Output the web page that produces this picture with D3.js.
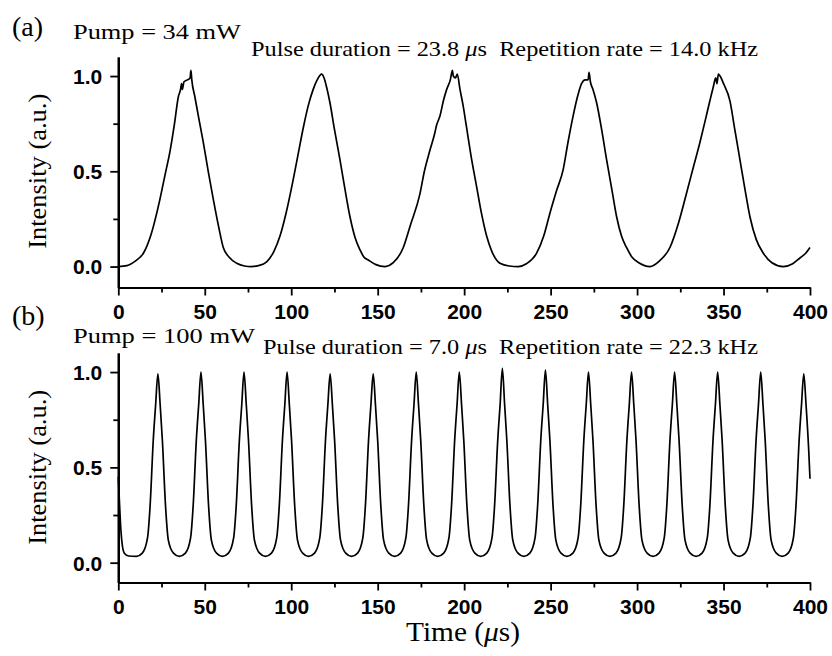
<!DOCTYPE html>
<html>
<head>
<meta charset="utf-8">
<script src="https://cdn.jsdelivr.net/npm/d3@7"></script>
<style>
  html, body { margin: 0; padding: 0; background: #fff; }
  svg { display: block; }
</style>
</head>
<body>
<svg id="chart" width="832" height="656"></svg>
<script>
// ---------------- DATA ----------------
const xTicks = [0, 50, 100, 150, 200, 250, 300, 350, 400];
const xMinorTicks = [25, 75, 125, 175, 225, 275, 325, 375];
const yTicks = [0.0, 0.5, 1.0];
const yMinorTicks = [0.25, 0.75];

const panelLabels = ["(a)", "(b)"];
const pumpLabels = ["Pump = 34 mW", "Pump = 100 mW"];
const durationLabels = ["Pulse duration = 23.8 ", "Pulse duration = 7.0 "];
const rateLabels = ["s  Repetition rate = 14.0 kHz", "s  Repetition rate = 22.3 kHz"];
const yTitle = "Intensity (a.u.)";
const xTitle = "Time (";

// Panel (a): Pump = 34 mW
const timeA = [0, 5, 10, 14.5, 19, 24, 27, 30, 32.5, 34.7, 36, 36.6, 37, 38, 40, 41.5, 42, 42.5, 44.3, 46.5,
  49, 52, 55, 58, 60.7, 64, 68.5, 73, 77, 81, 85.8, 90, 93.5, 97, 101, 104, 107, 110, 112.7, 115,
  117.6, 119, 120.5, 122.4, 125, 128.2, 131, 134, 137, 139.8, 142, 144.6, 149, 154.2, 159, 164.8, 169, 174.4, 177, 180.2,
  183, 184, 186, 188, 189.9, 192, 193.2, 193.7, 195, 196, 197.6, 199.5, 201.4, 204, 207.2, 210, 213, 216, 220.7, 226,
  231.3, 236, 241.9, 246, 249.6, 253.5, 257.3, 260, 263, 265.5, 267.9, 270, 271.7, 272.2, 273, 274.5, 276.6, 279.5, 282.4, 285.5,
  288.2, 291, 293.9, 297, 301, 307.4, 313, 319, 324, 328.6, 332.5, 336.3, 339.5, 342.1, 344, 345.5, 346.2, 347, 348, 350,
  353.7, 356.5, 359.5, 362.5, 365.3, 369, 373, 378, 384.5, 390, 394.2, 397.5, 400];
const intensityA = [0.0, 0.005, 0.03, 0.07, 0.17, 0.35, 0.48, 0.61, 0.75, 0.89, 0.93, 0.96, 0.93, 0.97, 0.98, 0.99, 1.03, 0.98, 0.89, 0.78,
  0.66, 0.50, 0.35, 0.21, 0.10, 0.05, 0.017, 0.003, 0.0, 0.005, 0.025, 0.08, 0.16, 0.28, 0.45, 0.59, 0.73, 0.85, 0.93, 0.98,
  1.01, 0.99, 0.94, 0.86, 0.72, 0.56, 0.41, 0.26, 0.15, 0.087, 0.05, 0.034, 0.01, 0.0, 0.02, 0.10, 0.22, 0.38, 0.50, 0.61,
  0.70, 0.74, 0.79, 0.87, 0.93, 0.98, 1.03, 1.0, 0.99, 1.01, 0.93, 0.84, 0.73, 0.58, 0.42, 0.28, 0.16, 0.08, 0.017, 0.003,
  0.0, 0.015, 0.07, 0.16, 0.28, 0.40, 0.51, 0.65, 0.79, 0.89, 0.96, 0.98, 0.98, 1.02, 0.97, 0.93, 0.86, 0.72, 0.56, 0.40,
  0.26, 0.16, 0.10, 0.05, 0.02, 0.0, 0.03, 0.10, 0.23, 0.385, 0.52, 0.65, 0.77, 0.87, 0.94, 0.99, 0.96, 1.01, 1.0, 0.96,
  0.87, 0.72, 0.56, 0.40, 0.26, 0.14, 0.07, 0.02, 0.0, 0.015, 0.045, 0.07, 0.10];

// Panel (b): Pump = 100 mW
const timeB = [0, 0.6, 1.3, 2.2, 3.5, 6, 10.5,
  13.9, 16.9, 18.4, 20.2, 21.6, 22.9, 24.2, 25.5, 27.3, 28.9, 31.9, 35.3,
  38.8, 41.8, 43.3, 45.1, 46.5, 47.8, 49.1, 50.4, 52.2, 53.8, 56.8, 60.2,
  63.7, 66.7, 68.2, 70.0, 71.4, 72.7, 74.0, 75.3, 77.1, 78.7, 81.7, 85.1,
  88.6, 91.6, 93.1, 94.9, 96.3, 97.6, 98.9, 100.2, 102.0, 103.6, 106.6, 110.0,
  113.5, 116.5, 118.0, 119.8, 121.2, 122.5, 123.8, 125.1, 126.9, 128.5, 131.5, 134.9,
  138.4, 141.4, 142.9, 144.7, 146.1, 147.4, 148.7, 150.0, 151.8, 153.4, 156.4, 159.8,
  163.3, 166.3, 167.8, 169.6, 171.0, 172.3, 173.6, 174.9, 176.7, 178.3, 181.3, 184.7,
  188.2, 191.2, 192.7, 194.5, 195.9, 197.2, 198.5, 199.8, 201.6, 203.2, 206.2, 209.6,
  213.1, 216.1, 217.6, 219.4, 220.8, 222.1, 223.4, 224.7, 226.5, 228.1, 231.1, 234.5,
  238.0, 241.0, 242.5, 244.3, 245.7, 247.0, 248.3, 249.6, 251.4, 253.0, 256.0, 259.4,
  262.9, 265.9, 267.4, 269.2, 270.6, 271.9, 273.2, 274.5, 276.3, 277.9, 280.9, 284.3,
  287.8, 290.8, 292.3, 294.1, 295.5, 296.8, 298.1, 299.4, 301.2, 302.8, 305.8, 309.2,
  312.7, 315.7, 317.2, 319.0, 320.4, 321.7, 323.0, 324.3, 326.1, 327.7, 330.7, 334.1,
  337.6, 340.6, 342.1, 343.9, 345.3, 346.6, 347.9, 349.2, 351.0, 352.6, 355.6, 359.0,
  362.5, 365.5, 367.0, 368.8, 370.2, 371.5, 372.8, 374.1, 375.9, 377.5, 380.5, 383.9,
  387.4, 390.4, 391.9, 393.7, 395.1, 396.4, 397.7, 399.2, 400];
const intensityB = [0.45, 0.33, 0.2, 0.1, 0.05, 0.035, 0.033,
  0.05, 0.13, 0.30, 0.64, 0.83, 0.99, 0.83, 0.64, 0.30, 0.12, 0.05, 0.033,
  0.05, 0.13, 0.30, 0.64, 0.83, 1.00, 0.83, 0.64, 0.30, 0.12, 0.05, 0.033,
  0.05, 0.13, 0.30, 0.64, 0.83, 1.00, 0.83, 0.64, 0.30, 0.12, 0.05, 0.033,
  0.05, 0.13, 0.30, 0.64, 0.83, 1.00, 0.83, 0.64, 0.30, 0.12, 0.05, 0.033,
  0.05, 0.13, 0.30, 0.64, 0.83, 0.99, 0.83, 0.64, 0.30, 0.12, 0.05, 0.033,
  0.05, 0.13, 0.30, 0.64, 0.83, 0.99, 0.83, 0.64, 0.30, 0.12, 0.05, 0.033,
  0.05, 0.13, 0.30, 0.64, 0.83, 1.00, 0.83, 0.64, 0.30, 0.12, 0.05, 0.033,
  0.05, 0.13, 0.30, 0.64, 0.83, 1.00, 0.83, 0.64, 0.30, 0.12, 0.05, 0.033,
  0.05, 0.13, 0.30, 0.64, 0.83, 1.02, 0.83, 0.64, 0.30, 0.12, 0.05, 0.033,
  0.05, 0.13, 0.30, 0.64, 0.83, 1.01, 0.83, 0.64, 0.30, 0.12, 0.05, 0.033,
  0.05, 0.13, 0.30, 0.64, 0.83, 1.00, 0.83, 0.64, 0.30, 0.12, 0.05, 0.033,
  0.05, 0.13, 0.30, 0.64, 0.83, 1.00, 0.83, 0.64, 0.30, 0.12, 0.05, 0.033,
  0.05, 0.13, 0.30, 0.64, 0.83, 1.00, 0.83, 0.64, 0.30, 0.12, 0.05, 0.033,
  0.05, 0.13, 0.30, 0.64, 0.83, 1.00, 0.83, 0.64, 0.30, 0.12, 0.05, 0.033,
  0.05, 0.13, 0.30, 0.64, 0.83, 1.00, 0.83, 0.64, 0.30, 0.12, 0.05, 0.033,
  0.05, 0.13, 0.30, 0.64, 0.83, 0.99, 0.83, 0.60, 0.44];

// ---------------- DRAWING ----------------
const svg = d3.select("#chart");
const serif = "'Liberation Serif', 'Times New Roman', Times, serif";
const sans = "'Liberation Sans', Arial, Helvetica, sans-serif";

const panels = [
  { t: timeA, v: intensityA, yDomain: [-0.11, 1.10], yRange: [287.5, 57],
    label: { x: 12, y: 36 }, pump: { x: 73, y: 39, w: 168 }, info: { x: 251, y: 56, w: 507 } },
  { t: timeB, v: intensityB, yDomain: [-0.104, 1.10], yRange: [582.5, 353],
    label: { x: 12, y: 325 }, pump: { x: 73, y: 343, w: 182 }, info: { x: 263, y: 354, w: 495 } }
];

const x = d3.scaleLinear().domain([0, 400]).range([118.3, 810]);

panels.forEach((p, i) => {
  const y = d3.scaleLinear().domain(p.yDomain).range(p.yRange);
  const g = svg.append("g");

  // minor ticks
  const xMinor = d3.axisBottom(x).tickValues(xMinorTicks).tickSize(5).tickSizeOuter(0).tickFormat("");
  const yMinor = d3.axisLeft(y).tickValues(yMinorTicks).tickSize(5).tickSizeOuter(0).tickFormat("");
  g.append("g").attr("transform", `translate(0,${p.yRange[0]})`).call(xMinor);
  g.append("g").attr("transform", `translate(${x.range()[0]},0)`).call(yMinor);

  // major axes
  const xAxis = d3.axisBottom(x).tickValues(xTicks).tickSize(8).tickSizeOuter(0).tickPadding(10)
    .tickFormat(d3.format("d"));
  const yAxis = d3.axisLeft(y).tickValues(yTicks).tickSize(8).tickSizeOuter(0).tickPadding(7)
    .tickFormat(d3.format(".1f"));
  const gx = g.append("g").attr("transform", `translate(0,${p.yRange[0]})`).call(xAxis);
  const gy = g.append("g").attr("transform", `translate(${x.range()[0]},0)`).call(yAxis);

  g.selectAll(".domain").attr("stroke", "#000").attr("stroke-width", 2.2);
  g.selectAll(".tick line").attr("stroke", "#000").attr("stroke-width", 1.8);
  g.selectAll(".tick text").attr("fill", "#000")
    .style("font-family", sans).style("font-size", "21px").style("font-weight", "bold");
  gx.selectAll(".tick text").attr("y", 17).attr("dy", "0.71em");
  gy.selectAll(".tick text").attr("x", -16).attr("dy", "0.35em");

  // trace
  const line = d3.line()
    .x((d, k) => x(p.t[k]))
    .y((d, k) => y(p.v[k]))
    .curve(d3.curveMonotoneX);
  g.append("path").datum(p.t).attr("d", line)
    .attr("fill", "none").attr("stroke", "#000").attr("stroke-width", 1.7)
    .attr("stroke-linejoin", "round");

  // y title
  const yMid = y(0.5);
  g.append("text")
    .attr("transform", `translate(46,${yMid}) rotate(-90)`)
    .attr("text-anchor", "middle")
    .attr("textLength", 155).attr("lengthAdjust", "spacingAndGlyphs")
    .style("font-family", serif).style("font-size", "25px")
    .text(yTitle);

  // panel label
  g.append("text").attr("x", p.label.x).attr("y", p.label.y)
    .style("font-family", serif).style("font-size", "28px").text(panelLabels[i]);

  // pump text
  g.append("text").attr("x", p.pump.x).attr("y", p.pump.y)
    .attr("textLength", p.pump.w).attr("lengthAdjust", "spacingAndGlyphs")
    .style("font-family", serif).style("font-size", "22px").text(pumpLabels[i]);

  // info text
  const info = g.append("text").attr("x", p.info.x).attr("y", p.info.y)
    .attr("textLength", p.info.w).attr("lengthAdjust", "spacingAndGlyphs")
    .attr("xml:space", "preserve").style("white-space", "pre")
    .style("font-family", serif).style("font-size", "22px");
  info.append("tspan").text(durationLabels[i]);
  info.append("tspan").style("font-style", "italic").text("\u03bc");
  info.append("tspan").text(rateLabels[i]);
});

// x title
const xt = svg.append("text").attr("x", 463).attr("y", 641).attr("text-anchor", "middle")
  .attr("textLength", 114).attr("lengthAdjust", "spacingAndGlyphs")
  .style("font-family", serif).style("font-size", "27px");
xt.append("tspan").text(xTitle);
xt.append("tspan").style("font-style", "italic").text("\u03bc");
xt.append("tspan").text("s)");
</script>
</body>
</html>
